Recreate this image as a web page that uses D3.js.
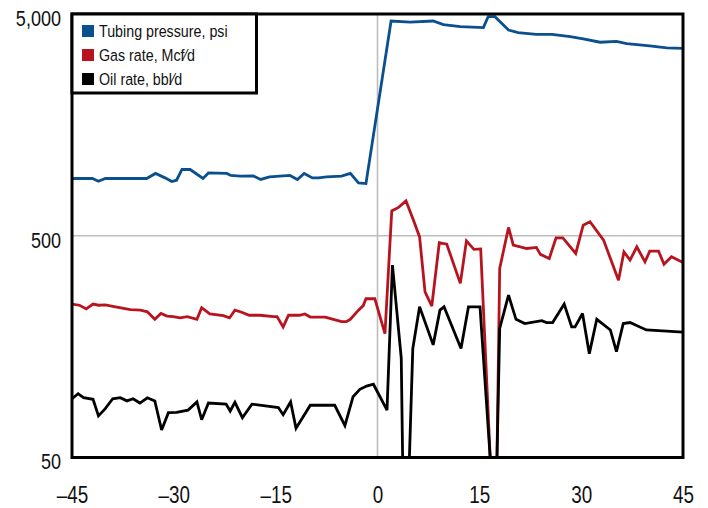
<!DOCTYPE html>
<html>
<head>
<meta charset="utf-8">
<script src="https://cdn.jsdelivr.net/npm/d3@7"></script>
<style>
  body { margin: 0; background: #fff; }
</style>
</head>
<body>
<div id="chart"></div>
<script>
'use strict'

// days relative to the event, and readings for each series
const tubingDays = [-45, -42.0, -41.1, -40.1, -34.0, -32.7, -31.3, -30.3, -29.6, -28.8, -27.6, -25.7, -24.9, -22.2, -21.6, -20.2, -18.3, -17.2, -15.9, -12.9, -11.8, -10.8, -9.6, -8.7, -7.5, -5.3, -4.0, -2.8, -1.7, 2.0, 4.8, 8.2, 9.7, 12.2, 15.6, 16.3, 17.3, 19.3, 20.7, 23.4, 25.7, 28.4, 30.3, 32.8, 35.2, 36.7, 40.1, 42.6, 45]
const tubingPsi = [906, 906, 881, 906, 906, 955, 912, 878, 890, 995, 995, 906, 960, 955, 935, 928, 931, 897, 921, 935, 897, 955, 912, 912, 921, 928, 955, 866, 860, 4650, 4600, 4650, 4480, 4385, 4340, 4865, 4865, 4235, 4120, 4050, 4050, 3955, 3860, 3730, 3765, 3680, 3590, 3515, 3500]

const gasDays = [-45, -43.9, -42.9, -41.9, -41.1, -40.1, -38.6, -36.4, -34.9, -33.9, -32.8, -31.9, -31.0, -30.1, -29.1, -28.0, -26.6, -25.9, -24.7, -22.7, -21.8, -21.0, -20.0, -18.9, -17.3, -15.3, -14.8, -13.9, -13.1, -11.5, -10.7, -9.9, -7.7, -6.5, -5.3, -4.6, -4.0, -2.8, -2.1, -1.7, -0.4, 1.1, 2.1, 3.1, 4.2, 5.3, 6.2, 7.0, 8.0, 9.1, 10.2, 12.2, 13.1, 14.2, 15.2, 16.6, 17.6, 18.0, 19.3, 20.0, 22.0, 23.4, 24.0, 25.3, 26.3, 27.3, 29.2, 30.3, 31.3, 33.3, 35.5, 36.3, 37.2, 38.2, 39.4, 40.1, 41.4, 42.2, 43.3, 45]
const gasMcf = [246, 243, 234, 246, 243, 244, 239, 232, 231, 227, 210, 223, 217, 216, 213, 216, 210, 237, 222, 218, 213, 231, 226, 219, 219, 216, 216, 194, 219, 219, 222, 215, 215, 210, 205, 205, 210, 231, 242, 260, 260, 181, 647, 671, 718, 588, 494, 279, 241, 465, 458, 305, 474, 434, 436, 50, 50, 356, 545, 454, 438, 443, 412, 395, 489, 489, 416, 558, 578, 478, 315, 423, 388, 446, 381, 426, 426, 372, 402, 379]

const oilDays = [-45, -44.1, -43.3, -41.9, -41.1, -40.1, -39.0, -37.9, -36.9, -36.0, -35.0, -33.9, -32.8, -31.8, -30.8, -29.6, -27.9, -26.6, -25.9, -24.9, -22.3, -21.7, -21.0, -19.9, -18.5, -14.6, -13.9, -12.8, -12.0, -9.9, -6.3, -4.8, -3.6, -2.6, -1.6, -0.6, 1.4, 2.2, 3.5, 3.7, 4.7, 5.2, 6.2, 8.2, 9.2, 9.8, 12.3, 13.4, 15.1, 16.6, 17.6, 18.0, 19.3, 20.4, 21.7, 24.2, 24.9, 25.8, 27.5, 28.6, 29.1, 30.2, 31.2, 32.3, 34.3, 35.2, 36.2, 37.2, 39.6, 45]
const oilBbl = [92, 97, 93, 91.5, 77, 83, 92, 93, 90, 92, 88, 93, 90, 66.5, 79.6, 79.9, 81.8, 89, 74, 88, 87, 81, 88.7, 75.6, 87, 84, 78, 89, 67.7, 86, 86, 69.6, 94, 101.5, 105, 107, 81.8, 369, 140, 50, 50, 155, 239, 161, 231, 239, 155, 239, 239, 50, 50, 191, 270, 210, 201, 207, 203, 203, 246, 194, 194, 223, 147, 210, 188, 150, 201, 203, 188, 184]

const seriesNames = ['Tubing pressure, psi', 'Gas rate, Mcf\u2044d', 'Oil rate, bbl\u2044d']
const seriesColors = ['#0a4f8e', '#b8141f', '#000000']
const xTicks = [-45, -30, -15, 0, 15, 30, 45]
const yTicks = [50, 500, 5000]

// no condensed face installed, so the regular face is squeezed sideways
const fontFamily = "'Liberation Sans', Arial, sans-serif"
const squeeze = 0.82

class Chart {
  constructor (containerID) {
    let t = this
    t.containerID = containerID
    t.margin = { top: 14, right: 25, bottom: 50.5, left: 72 }
    t.fullWidth = 708
    t.fullHeight = 508
    t.width = t.fullWidth - t.margin.left - t.margin.right
    t.height = t.fullHeight - t.margin.top - t.margin.bottom
    t.gridGray = '#bdbdbd'
    t.initSVG()
    t.x = d3.scaleLinear().domain([-45, 45]).range([0, t.width])
    t.y = d3.scaleLog().domain([50, 5000]).range([t.height, 0])
  }

  initSVG () {
    let t = this
    d3.select(t.containerID).selectAll('*').remove()
    t.svgFull = d3.select(t.containerID)
      .append('svg')
      .attr('width', t.fullWidth)
      .attr('height', t.fullHeight)
      .style('display', 'block')
      .style('background', '#fff')
    t.svg = t.svgFull.append('g')
      .attr('transform', 'translate(' + t.margin.left + ' ' + t.margin.top + ')')
  }

  drawGrid () {
    let t = this
    t.svg.append('line')
      .attr('x1', t.x(0)).attr('x2', t.x(0))
      .attr('y1', 0).attr('y2', t.height)
      .attr('stroke', t.gridGray)
      .attr('stroke-width', 1.6)
    t.svg.append('line')
      .attr('x1', 0).attr('x2', t.width)
      .attr('y1', t.y(500)).attr('y2', t.y(500))
      .attr('stroke', t.gridGray)
      .attr('stroke-width', 1.6)
  }

  drawAxes () {
    let t = this
    // x labels, en dash for negatives
    let xAxis = t.svg.append('g')
      .attr('transform', 'translate(0,' + t.height + ')')
      .call(d3.axisBottom(t.x)
        .tickValues(xTicks)
        .tickSize(0)
        .tickPadding(29)
        .tickFormat(d => d < 0 ? '\u2013' + Math.abs(d) : String(d)))
    xAxis.select('.domain').remove()
    xAxis.selectAll('text')
      .attr('font-family', fontFamily)
      .attr('font-size', 23)
      .attr('transform', 'scale(' + squeeze + ',1)')
      .attr('fill', '#111')

    let yAxis = t.svg.append('g')
      .call(d3.axisLeft(t.y)
        .tickValues(yTicks)
        .tickSize(0)
        .tickPadding(11)
        .tickFormat(d3.format(',')))
    yAxis.select('.domain').remove()
    yAxis.selectAll('text')
      .attr('font-family', fontFamily)
      .attr('font-size', 22)
      .attr('x', -11 / squeeze)
      .attr('dy', '0.52em')
      .attr('transform', 'scale(' + squeeze + ',1)')
      .attr('fill', '#111')
  }

  drawLines () {
    let t = this
    let line = d3.line()
      .x(d => t.x(d[0]))
      .y(d => t.y(d[1]))
    let series = [
      d3.zip(tubingDays, tubingPsi),
      d3.zip(gasDays, gasMcf),
      d3.zip(oilDays, oilBbl)
    ]
    series.forEach((s, i) => {
      t.svg.append('path')
        .datum(s)
        .attr('d', line)
        .attr('fill', 'none')
        .attr('stroke', seriesColors[i])
        .attr('stroke-width', 2.8)
        .attr('stroke-linejoin', 'miter')
        .attr('stroke-miterlimit', 3)
    })
  }

  drawFrame () {
    let t = this
    t.svg.append('rect')
      .attr('x', 0).attr('y', 0)
      .attr('width', t.width).attr('height', t.height)
      .attr('fill', 'none')
      .attr('stroke', '#000')
      .attr('stroke-width', 3)
  }

  drawLegend () {
    let t = this
    let g = t.svg.append('g')
    g.append('rect')
      .attr('x', 0).attr('y', 0)
      .attr('width', 184.5).attr('height', 79)
      .attr('fill', '#fff')
      .attr('stroke', '#000')
      .attr('stroke-width', 3)
    let items = g.selectAll('.item')
      .data(seriesNames)
      .enter().append('g')
      .attr('transform', (d, i) => 'translate(10,' + (17 + i * 24) + ')')
    items.append('rect')
      .attr('x', 0).attr('y', -6)
      .attr('width', 12).attr('height', 12)
      .attr('fill', (d, i) => seriesColors[i])
    items.append('text')
      .attr('transform', 'translate(17,0) scale(0.865,1)')
      .attr('dy', '0.36em')
      .attr('font-family', fontFamily)
      .attr('font-size', 16.5)
      .attr('fill', '#111')
      .text(d => d)
  }
}

const chart = new Chart('#chart')
chart.drawGrid()
chart.drawLines()
chart.drawFrame()
chart.drawAxes()
chart.drawLegend()
</script>
</body>
</html>
